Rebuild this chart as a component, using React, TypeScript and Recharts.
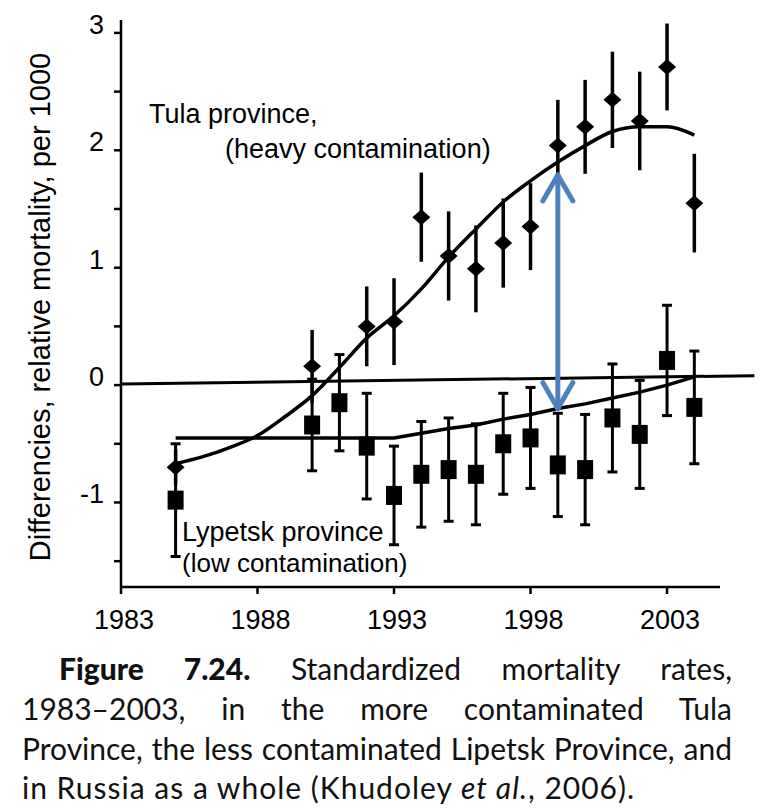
import React from 'react';
import {
  ComposedChart,
  Line,
  Scatter,
  XAxis,
  YAxis,
  ErrorBar,
  ReferenceLine,
} from 'recharts';

// Tula province (heavy contamination): yearly points and error half-widths
const TULA_YEARS = [1985, 1990, 1992, 1993, 1994, 1995, 1996, 1997, 1998, 1999, 2000, 2001, 2002, 2003, 2004];
const TULA_VALUES = [-0.7, 0.16, 0.5, 0.54, 1.43, 1.1, 0.99, 1.21, 1.35, 2.04, 2.2, 2.43, 2.25, 2.71, 1.55];
const TULA_ERR = [0.15, 0.31, 0.34, 0.37, 0.38, 0.38, 0.37, 0.38, 0.37, 0.39, 0.4, 0.41, 0.42, 0.37, 0.42];

// Lypetsk province (low contamination)
const LYP_YEARS = [1985, 1990, 1991, 1992, 1993, 1994, 1995, 1996, 1997, 1998, 1999, 2000, 2001, 2002, 2003, 2004];
const LYP_VALUES = [-0.98, -0.34, -0.15, -0.52, -0.94, -0.76, -0.72, -0.76, -0.5, -0.45, -0.68, -0.72, -0.28, -0.42, 0.21, -0.19];
const LYP_ERR = [0.48, 0.39, 0.41, 0.45, 0.42, 0.45, 0.44, 0.43, 0.43, 0.43, 0.44, 0.47, 0.46, 0.46, 0.47, 0.48];

// smoothed trends
const TULA_TREND_YEARS = [1985, 1986, 1987, 1988, 1989, 1990, 1991, 1992, 1993, 1994, 1995, 1996, 1997, 1998, 1999, 2000, 2001, 2002, 2003, 2004];
const TULA_TREND = [-0.67, -0.61, -0.53, -0.43, -0.27, -0.09, 0.15, 0.4, 0.59, 0.82, 1.09, 1.33, 1.56, 1.74, 1.9, 2.04, 2.16, 2.2, 2.2, 2.13];
const LYP_TREND_YEARS = [1985, 1993, 1994, 1995, 1996, 1997, 1998, 1999, 2000, 2001, 2002, 2003, 2004];
const LYP_TREND = [-0.45, -0.45, -0.41, -0.37, -0.34, -0.29, -0.25, -0.2, -0.16, -0.11, -0.06, 0.0, 0.07];

// Russia as a whole (reference line, runs past the end of the axis)
const RUSSIA_YEARS = [1983, 2006.2];
const RUSSIA_VALUES = [0.01, 0.08];

// gap arrow between the two trends
const ARROW_YEAR = 1999;
const ARROW_FROM = 1.79;
const ARROW_TO = -0.2;

const X_TICKS = [1983, 1988, 1993, 1998, 2003];
const Y_TICKS = [-1.5, -1, -0.5, 0, 0.5, 1, 1.5, 2, 2.5, 3];

const tulaData = TULA_YEARS.map((year, i) => ({ year, value: TULA_VALUES[i], err: TULA_ERR[i] }));
const lypData = LYP_YEARS.map((year, i) => ({ year, value: LYP_VALUES[i], err: LYP_ERR[i] }));
const tulaTrend = TULA_TREND_YEARS.map((year, i) => ({ year, value: TULA_TREND[i] }));
const lypTrend = LYP_TREND_YEARS.map((year, i) => ({ year, value: LYP_TREND[i] }));

const FONT = '"Liberation Sans", Arial, Helvetica, sans-serif';
const ARROW_BLUE = '#4f81bd';

function Diamond({ cx = 0, cy = 0 }: { cx?: number; cy?: number }) {
  return (
    <polygon
      points={`${cx},${cy - 8} ${cx + 9},${cy} ${cx},${cy + 8} ${cx - 9},${cy}`}
      fill="#000"
    />
  );
}

function Square({ cx = 0, cy = 0 }: { cx?: number; cy?: number }) {
  return <rect x={cx - 8} y={cy - 9.5} width={16} height={19} fill="#000" />;
}

// eslint-disable-next-line @typescript-eslint/no-explicit-any
function GapArrow(props: any) {
  const { x1, y1, y2 } = props;
  const hw = 15;
  const hh = 26;
  return (
    <g stroke={ARROW_BLUE} strokeWidth={5} fill="none" strokeLinecap="round" strokeLinejoin="round">
      <line x1={x1} y1={y1} x2={x1} y2={y2} />
      <polyline points={`${x1 - hw},${y1 + hh} ${x1},${y1} ${x1 + hw},${y1 + hh}`} />
      <polyline points={`${x1 - hw},${y2 - hh} ${x1},${y2} ${x1 + hw},${y2 - hh}`} />
    </g>
  );
}

// eslint-disable-next-line @typescript-eslint/no-explicit-any
function YTick({ x, y, payload }: any) {
  if (!Number.isInteger(payload.value)) return null;
  return (
    <text x={x} y={y - 9} dy={10} textAnchor="end" fontSize={27} fill="#000" fontFamily={FONT}>
      {payload.value}
    </text>
  );
}

// eslint-disable-next-line @typescript-eslint/no-explicit-any
function XTick({ x, y, payload }: any) {
  return (
    <text x={x + 3} y={y + 33} textAnchor="middle" fontSize={27} fill="#000" fontFamily={FONT}>
      {payload.value}
    </text>
  );
}

const lineStyle: React.CSSProperties = {
  position: 'absolute',
  left: 22,
  width: 710,
  fontFamily: 'Lato, "Open Sans", sans-serif',
  fontSize: 30,
  lineHeight: '36px',
  color: '#111',
  whiteSpace: 'nowrap',
};

export default function App() {
  return (
    <div style={{ position: 'absolute', left: 0, top: 0, width: 780, height: 809, background: '#fff' }}>
      <ComposedChart
        width={780}
        height={640}
        margin={{ top: 20, right: 60, bottom: 13, left: 61 }}
      >
        <XAxis
          type="number"
          dataKey="year"
          domain={[1983, 2004.94]}
          ticks={X_TICKS}
          interval={0}
          allowDataOverflow
          height={40}
          axisLine={{ stroke: '#000', strokeWidth: 2.5 }}
          tickLine={{ stroke: '#000', strokeWidth: 2.5 }}
          tickSize={7}
          tick={XTick}
        />
        <YAxis
          type="number"
          domain={[-1.72, 3.11]}
          ticks={Y_TICKS}
          interval={0}
          allowDataOverflow
          width={60}
          axisLine={{ stroke: '#000', strokeWidth: 2.5 }}
          tickLine={{ stroke: '#000', strokeWidth: 2.5 }}
          tickSize={7}
          tickMargin={10}
          tick={YTick}
        />
        <ReferenceLine
          segment={[
            { x: RUSSIA_YEARS[0], y: RUSSIA_VALUES[0] },
            { x: RUSSIA_YEARS[1], y: RUSSIA_VALUES[1] },
          ]}
          stroke="#000"
          strokeWidth={3}
          ifOverflow="visible"
        />
        <Line
          data={lypTrend}
          dataKey="value"
          type="linear"
          stroke="#000"
          strokeWidth={3.5}
          dot={false}
          isAnimationActive={false}
        />
        <Line
          data={tulaTrend}
          dataKey="value"
          type="monotone"
          stroke="#000"
          strokeWidth={3.5}
          dot={false}
          isAnimationActive={false}
        />
        <Scatter data={lypData} dataKey="value" shape={<Square />} isAnimationActive={false}>
          <ErrorBar dataKey="err" direction="y" width={5} stroke="#000" strokeWidth={3} />
        </Scatter>
        <Scatter data={tulaData} dataKey="value" shape={<Diamond />} isAnimationActive={false}>
          <ErrorBar dataKey="err" direction="y" width={0} stroke="#000" strokeWidth={3.5} />
        </Scatter>
        <ReferenceLine
          segment={[
            { x: ARROW_YEAR, y: ARROW_FROM },
            { x: ARROW_YEAR, y: ARROW_TO },
          ]}
          ifOverflow="visible"
          shape={GapArrow}
        />
      </ComposedChart>

      <svg
        width={780}
        height={640}
        style={{ position: 'absolute', left: 0, top: 0, pointerEvents: 'none' }}
        fontFamily={FONT}
        fill="#000"
      >
        <text transform="translate(50,307) rotate(-90)" textAnchor="middle" fontSize={29}>
          Differencies, relative mortality, per 1000
        </text>
        <text x={149} y={123} fontSize={27}>Tula province,</text>
        <text x={225} y={158} fontSize={27}>(heavy contamination)</text>
        <text x={182} y={541} fontSize={27}>Lypetsk province</text>
        <text x={182} y={572} fontSize={26}>(low contamination)</text>
      </svg>

      <div style={{ ...lineStyle, top: 650, paddingLeft: 37, width: 673, textAlign: 'justify', textAlignLast: 'justify' }}>
        <b style={{ fontWeight: 900 }}>Figure 7.24.</b> Standardized mortality rates,
      </div>
      <div style={{ ...lineStyle, top: 690, textAlign: 'justify', textAlignLast: 'justify' }}>
        1983–2003, in the more contaminated Tula
      </div>
      <div style={{ ...lineStyle, top: 730, textAlign: 'justify', textAlignLast: 'justify' }}>
        Province, the less contaminated Lipetsk Province, and
      </div>
      <div style={{ ...lineStyle, top: 769, letterSpacing: 1 }}>
        in Russia as a whole (Khudoley <i>et al.</i>, 2006).
      </div>
    </div>
  );
}
